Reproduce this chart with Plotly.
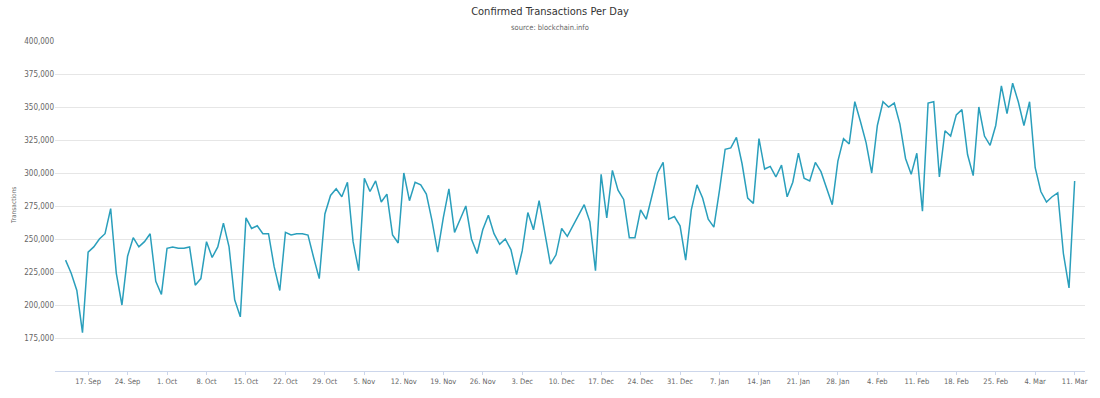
import pandas as pd
import plotly.graph_objects as go

start_date = "2018-09-13"
transactions_k = [
    234, 224, 211, 179, 240, 244, 250, 254, 273, 224,
    200, 237, 251, 244, 248, 254, 218, 208, 243, 244,
    243, 243, 244, 215, 220, 248, 236, 244, 262, 244,
    204, 191, 266, 258, 260, 254, 254, 229, 211, 255,
    253, 254, 254, 253, 236, 220, 269, 283, 288, 282,
    293, 248, 226, 296, 286, 294, 278, 284, 253, 247,
    300, 279, 293, 291, 284, 264, 240, 266, 288, 255,
    265, 275, 250, 239, 257, 268, 254, 246, 250, 242,
    223, 241, 270, 257, 279, 256, 231, 238, 258, 252,
    260, 268, 276, 263, 226, 299, 266, 302, 287, 280,
    251, 251, 272, 265, 283, 300, 308, 265, 267, 260,
    234, 272, 291, 281, 265, 259, 287, 318, 319, 327,
    307, 281, 277, 326, 303, 305, 297, 306, 282, 293,
    315, 296, 294, 308, 301, 289, 276, 309, 326, 322,
    354, 339, 323, 300, 336, 354, 350, 353, 337, 311,
    299, 315, 271, 353, 354, 297, 332, 328, 344, 348,
    314, 298, 350, 328, 321, 336, 366, 345, 368, 354,
    336, 354, 304, 286, 278, 282, 285, 239, 213, 294,
]
transactions = [v * 1000 for v in transactions_k]
dates = pd.date_range(start_date, periods=len(transactions), freq="D")

y_ticks = [175000, 200000, 225000, 250000, 275000, 300000, 325000, 350000, 375000, 400000]
y_tick_text = [f"{v:,}" for v in y_ticks]

title_text = "Confirmed Transactions Per Day"
subtitle_text = "source: blockchain.info"
y_title = "Transactions"

font_family = "DejaVu Sans Condensed, Open Sans, sans-serif"

fig = go.Figure()
fig.add_trace(go.Scatter(
    x=dates, y=transactions, mode="lines",
    line=dict(color="#2a9fbc", width=1.5),
    hoverinfo="skip", showlegend=False,
))

fig.update_layout(
    width=1100, height=398,
    margin=dict(l=55, r=15, t=41, b=24),
    paper_bgcolor="white", plot_bgcolor="white",
    font=dict(family=font_family, color="#666666", size=8),
    title=dict(text=title_text, x=0.5, xanchor="center", y=1 - 11 / 398, yanchor="middle",
               font=dict(size=11, color="#333333", family=font_family)),
    annotations=[
        dict(text=subtitle_text, xref="paper", yref="paper", x=(550 - 55) / 1030, y=(374 - 27) / 333,
             xanchor="center", yanchor="middle", showarrow=False,
             font=dict(size=7.5, color="#666666")),
        dict(text=y_title, xref="paper", yref="paper", x=(14 - 55) / 1030, y=0.5,
             xanchor="center", yanchor="middle", showarrow=False, textangle=-90,
             font=dict(size=6.5, color="#666666")),
    ],
    xaxis=dict(
        type="date",
        range=["2018-09-11 03:00", "2019-03-12 20:00"],
        tick0="2018-09-17", dtick=7 * 24 * 3600 * 1000,
        tickformat="%-d. %b",
        showgrid=False, zeroline=False,
        showline=True, linecolor="#ccd6eb", linewidth=1,
        ticks="outside", ticklen=3, tickcolor="#ccd6eb",
        tickfont=dict(size=7.5, color="#666666"),
    ),
    yaxis=dict(
        range=[150000, 400000],
        tickvals=y_ticks, ticktext=y_tick_text,
        showgrid=True, gridcolor="#e6e6e6", gridwidth=1,
        zeroline=False, showline=False, ticks="",
        tickfont=dict(size=8, color="#666666"),
    ),
)

fig.write_html("out.html", config={"displayModeBar": False},
               post_script="document.body.style.margin='0';")
